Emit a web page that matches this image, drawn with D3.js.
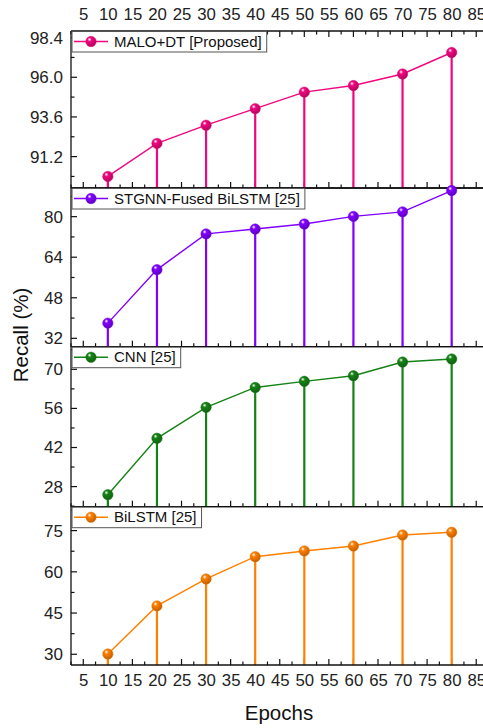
<!DOCTYPE html>
<html><head><meta charset="utf-8">
<script src="https://cdn.jsdelivr.net/npm/d3@7"></script>
<style>
html,body{margin:0;padding:0;background:#fff;}
svg{display:block;font-family:Arial,"Liberation Sans",sans-serif;}
</style></head>
<body><svg id="c" width="483" height="728"></svg>
<script>
// ---- data ----
const epochs = [10, 20, 30, 40, 50, 60, 70, 80];
const xTicks = [5, 10, 15, 20, 25, 30, 35, 40, 45, 50, 55, 60, 65, 70, 75, 80, 85];
const seriesNames = ["MALO+DT [Proposed]", "STGNN-Fused BiLSTM [25]", "CNN [25]", "BiLSTM [25]"];
const maloDT = [90.0, 92.0, 93.1, 94.1, 95.1, 95.5, 96.2, 97.5];
const stgnn = [38.0, 59.1, 73.2, 75.1, 77.1, 80.1, 81.9, 90.3];
const cnn = [25.1, 45.3, 56.4, 63.5, 65.7, 67.7, 72.6, 73.7];
const bilstm = [30.1, 47.6, 57.4, 65.5, 67.6, 69.4, 73.4, 74.4];
const yTicks1 = [91.2, 93.6, 96.0, 98.4];
const yTicks2 = [32, 48, 64, 80];
const yTicks3 = [28, 42, 56, 70];
const yTicks4 = [30, 45, 60, 75];
const yDomains = [[89.3, 98.8], [28.7, 91.3], [20.8, 78.1], [26.1, 83.7]];
const yMinorStep = [1.2, 8, 7, 7.5];

const colors = ["#f0077f", "#8000ff", "#158215", "#ff8000"];
const values = [maloDT, stgnn, cnn, bilstm];
const yTicksAll = [yTicks1, yTicks2, yTicks3, yTicks4];
const panelY = [[31, 188], [188, 346.7], [346.7, 506.7], [506.7, 665]];

const svg = d3.select("#c");
const left = 71, right = 488.5;
const x = d3.scaleLinear().domain([2.5, 87.5]).range([left, right]);
const xMinor = d3.range(2.5, 87.6, 2.5);

const defs = svg.append("defs");
colors.forEach((c, i) => {
  const g = defs.append("radialGradient").attr("id", "g" + i)
    .attr("cx", "0.4").attr("cy", "0.35").attr("r", "0.65").attr("fx", "0.35").attr("fy", "0.3");
  g.append("stop").attr("offset", "0").attr("stop-color", "#ffffff");
  g.append("stop").attr("offset", "0.3").attr("stop-color", c);
  g.append("stop").attr("offset", "1").attr("stop-color", d3.color(c).darker(0.8));
});

const ink = "#111";

values.forEach((vals, i) => {
  const [top, bot] = panelY[i];
  const y = d3.scaleLinear().domain(yDomains[i]).range([bot, top]);
  const g = svg.append("g");
  const col = colors[i];

  // minor / major y ticks
  const yMin = d3.range(Math.ceil(yDomains[i][0] / yMinorStep[i]) * yMinorStep[i], yDomains[i][1], yMinorStep[i]);
  g.append("g").selectAll("line").data(yMin).join("line")
    .attr("x1", left).attr("x2", d => left + (yTicksAll[i].some(t => Math.abs(t - d) < 1e-6) ? 6 : 3.5))
    .attr("y1", d => y(d)).attr("y2", d => y(d))
    .attr("stroke", ink).attr("stroke-width", 1.2);
  // y tick labels via axis
  const ya = d3.axisLeft(y).tickValues(yTicksAll[i]).tickSize(0).tickPadding(8)
    .tickFormat(i === 0 ? d3.format(".1f") : d3.format("d"));
  const yg = g.append("g").attr("transform", `translate(${left},0)`).call(ya);
  yg.select(".domain").remove();
  yg.selectAll("text").attr("font-size", 17).attr("fill", "#222").attr("font-family", "Arial,'Liberation Sans',sans-serif");

  // bottom x ticks (inward, pointing up)
  g.append("g").selectAll("line").data(xMinor).join("line")
    .attr("x1", d => x(d)).attr("x2", d => x(d))
    .attr("y1", bot).attr("y2", d => bot - ((Math.round(d * 10) % 50 === 0) ? 6 : 3.5))
    .attr("stroke", ink).attr("stroke-width", 1.2);
  if (i === 0) {
    g.append("g").selectAll("line").data(xMinor).join("line")
      .attr("x1", d => x(d)).attr("x2", d => x(d))
      .attr("y1", top).attr("y2", d => top + ((Math.round(d * 10) % 50 === 0) ? 6 : 3.5))
      .attr("stroke", ink).attr("stroke-width", 1.2);
  }

  // stems
  g.append("g").selectAll("line").data(epochs).join("line")
    .attr("x1", d => x(d)).attr("x2", d => x(d))
    .attr("y1", (d, j) => y(vals[j])).attr("y2", bot)
    .attr("stroke", col).attr("stroke-width", 2.2);
  // connecting line
  g.append("path").datum(epochs)
    .attr("d", d3.line().x(d => x(d)).y((d, j) => y(vals[j])))
    .attr("fill", "none").attr("stroke", col).attr("stroke-width", 1.4);

  // frame
  g.append("line").attr("x1", left).attr("x2", right).attr("y1", bot).attr("y2", bot).attr("stroke", ink).attr("stroke-width", 1.3);
  g.append("line").attr("x1", left).attr("x2", right).attr("y1", top).attr("y2", top).attr("stroke", ink).attr("stroke-width", 1.3);
  g.append("line").attr("x1", left).attr("x2", left).attr("y1", top).attr("y2", bot).attr("stroke", ink).attr("stroke-width", 1.3);

  // markers
  g.append("g").selectAll("circle").data(epochs).join("circle")
    .attr("cx", d => x(d)).attr("cy", (d, j) => y(vals[j])).attr("r", 5.2)
    .attr("fill", `url(#g${i})`).attr("stroke", d3.color(col).darker(0.3)).attr("stroke-width", 0.5);

  // legend
  const lg = g.append("g").attr("transform", `translate(${left + 1},${top})`);
  const txt = lg.append("text").attr("x", 42).attr("y", 15.5).attr("font-size", 15).attr("fill", "#111").text(seriesNames[i]);
  const tw = txt.node().getComputedTextLength();
  lg.insert("rect", "text").attr("x", 0).attr("y", 0.5).attr("width", 42 + tw + 5).attr("height", 20.5)
    .attr("fill", "#fff").attr("stroke", "#555").attr("stroke-width", 1);
  lg.insert("line", "text").attr("x1", 2).attr("x2", 36).attr("y1", 10.5).attr("y2", 10.5).attr("stroke", col).attr("stroke-width", 1.5);
  lg.append("circle").attr("cx", 19).attr("cy", 10.5).attr("r", 5.2).attr("fill", `url(#g${i})`)
    .attr("stroke", d3.color(col).darker(0.3)).attr("stroke-width", 0.5);
});

// x tick labels (top and bottom)
const xaTop = d3.axisTop(x).tickValues(xTicks).tickSize(0).tickPadding(11);
const tg = svg.append("g").attr("transform", `translate(0,${panelY[0][0]})`).call(xaTop);
tg.select(".domain").remove();
tg.selectAll("text").attr("font-size", 16.8).attr("fill", "#222").attr("font-family", "Arial,'Liberation Sans',sans-serif");
const xaBot = d3.axisBottom(x).tickValues(xTicks).tickSize(0).tickPadding(9);
const bg = svg.append("g").attr("transform", `translate(0,${panelY[3][1]})`).call(xaBot);
bg.select(".domain").remove();
bg.selectAll("text").attr("font-size", 16.8).attr("fill", "#222").attr("font-family", "Arial,'Liberation Sans',sans-serif");

// axis titles
svg.append("text").attr("x", 279).attr("y", 720).attr("text-anchor", "middle").attr("font-size", 20.5).attr("fill", "#111").text("Epochs");
svg.append("text").attr("transform", "translate(28,335) rotate(-90)").attr("text-anchor", "middle").attr("font-size", 20.5).attr("fill", "#111").text("Recall (%)");
</script></body></html>
